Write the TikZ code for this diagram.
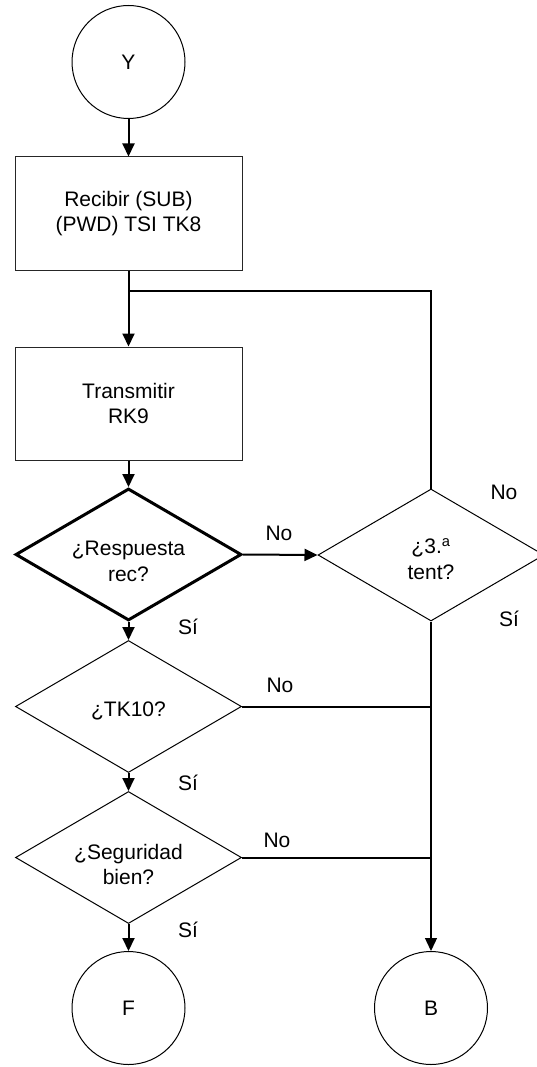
\documentclass[tikz,border=0pt]{standalone}
\usepackage{fontspec}
\setmainfont{Liberation Sans}
\usetikzlibrary{shapes.geometric,arrows.meta}
\newcommand\dstrut[1]{\rule{0pt}{#1}}
\begin{document}
\begin{tikzpicture}[x=1pt,y=-1pt,
  every node/.style={font=\fontsize{21}{25.5}\selectfont},
  circ/.style={circle,draw,line width=1pt,minimum size=113pt,inner sep=0pt},
  procbox/.style={rectangle,draw=black!85,line width=1pt,minimum width=227pt,minimum height=113pt,align=center,inner sep=0pt},
  dec/.style={diamond,shape aspect=1.7,draw,line width=1pt,minimum width=226pt,minimum height=132pt,align=center,inner sep=0pt},
  tip/.style={-{Triangle[length=13pt,width=12pt]}},
  flow/.style={line width=2pt,tip},
  thin/.style={line width=1.3pt},
  lbl/.style={inner sep=0pt}
]
\useasboundingbox (0,0) rectangle (536,1067);
% nodes
\node[circ] (Y) at (128.5,62) {Y};
\node[procbox] (r1) at (128.5,213.5) {Recibir (SUB)\\(PWD) TSI TK8};
\node[procbox] (t) at (128.5,403.5) {Transmitir\\RK9};
\node[dec,line width=3pt] (d1) at (128.5,554.5) {\dstrut{28pt}¿Respuesta\\rec?};
\node[dec] (d3) at (431,555) {\dstrut{23pt}¿3.\textsuperscript{a}\\tent?};
\node[dec] (d2) at (128.5,706.5) {\dstrut{23pt}¿TK10?};
\node[dec] (d4) at (128.5,857.5) {\dstrut{29pt}¿Seguridad\\bien?};
\node[circ] (F) at (128.5,1008) {F};
\node[circ] (B) at (431,1008) {B};
\coordinate (j) at (128.5,291);
% connectors
\draw[flow] (Y) -- (r1);
\draw[flow] (r1) -- (t);
\draw[thin] (d3.north) -- (d3.north |- j) -- (j);
\draw[flow] (t) -- (d1);
\draw[flow] (d1.east) -- (d3.west);
\draw[flow] (d1) -- (d2);
\draw[flow] (d2) -- (d4);
\draw[flow] (d4) -- (F);
\draw[thin,tip] (d3.south) -- (B.north);
\draw[line width=2pt] (d2.east) -- (d2.east -| d3.south);
\draw[line width=2pt] (d4.east) -- (d4.east -| d3.south);
% labels
\node[lbl] (l1) at (279,533) {No};
\node[lbl] (l2) at (188,627) {Sí};
\node[lbl] (l3) at (504,492) {No};
\node[lbl] (l4) at (509,619) {Sí};
\node[lbl] (l5) at (280,685) {No};
\node[lbl] (l6) at (188,783) {Sí};
\node[lbl] (l7) at (277,840) {No};
\node[lbl] (l8) at (188,930) {Sí};
\end{tikzpicture}
\end{document}
